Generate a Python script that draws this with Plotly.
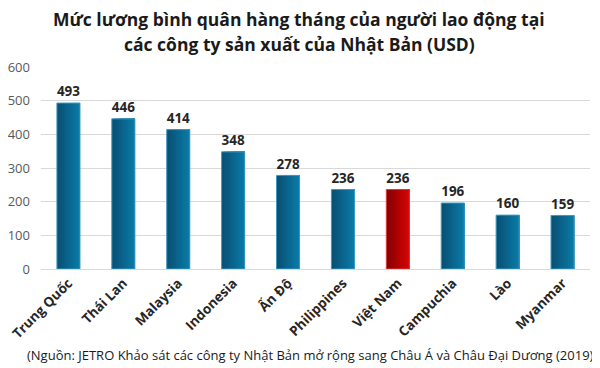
import plotly.graph_objects as go

countries = ["Trung Quốc", "Thái Lan", "Malaysia", "Indonesia", "Ấn Độ",
             "Philippines", "Việt Nam", "Campuchia", "Lào", "Myanmar"]
wages = [493, 446, 414, 348, 278, 236, 236, 196, 160, 159]
highlight = "Việt Nam"

# gradient end colours (left -> right) for normal and highlighted bars
blue_left, blue_right = (10, 80, 116), (10, 122, 166)
red_left, red_right = (135, 0, 0), (212, 4, 4)
blue_edge, red_edge = "#3d9ac2", "#e03a3a"

bar_w = 0.42
n_strips = 10


def mix(a, b, t):
    return "rgb(%d,%d,%d)" % tuple(round(a[i] + (b[i] - a[i]) * t) for i in range(3))


fig = go.Figure()
for k in range(n_strips):
    t = k / (n_strips - 1)
    start = -bar_w / 2 + k * bar_w / n_strips
    cols = [mix(red_left, red_right, t) if c == highlight else mix(blue_left, blue_right, t)
            for c in countries]
    fig.add_trace(go.Bar(
        x=countries, y=wages,
        width=bar_w / 2 - start, offset=start,
        marker=dict(color=cols, line=dict(width=0)),
        hoverinfo="skip",
    ))

fig.add_trace(go.Bar(
    x=countries, y=wages, width=bar_w, offset=-bar_w / 2,
    marker=dict(color="rgba(0,0,0,0)",
                line=dict(color=[red_edge if c == highlight else blue_edge for c in countries], width=1)),
    text=[str(v) for v in wages], textposition="outside",
    textfont=dict(family="Open Sans", size=14, color="#262626", weight="bold"),
    cliponaxis=False,
))

title_font = dict(family="Open Sans", size=17.5, color="#1a1a1a", weight="bold")

fig.update_layout(
    width=592, height=360,
    margin=dict(l=33, r=10, t=59, b=99),
    paper_bgcolor="white", plot_bgcolor="white",
    barmode="overlay",
    showlegend=False,
    yaxis=dict(
        range=[0, 600], dtick=100, showgrid=True, gridcolor="#d9d9d9", gridwidth=1,
        zeroline=False, showline=False, automargin=False,
        tickfont=dict(family="Open Sans", size=13, color="#595959"),
        ticklabelstandoff=10,
    ),
    xaxis=dict(
        tickangle=-45, showline=True, linecolor="#d9d9d9", linewidth=1, automargin=False,
        tickfont=dict(family="Open Sans", size=13.5, color="#262626", weight="bold"),
    ),
    annotations=[
        dict(text="Mức lương bình quân hàng tháng của người lao động tại",
             xref="paper", yref="paper", x=0.47, y=1.238, xanchor="center", yanchor="middle",
             showarrow=False, font=title_font),
        dict(text="các công ty sản xuất của Nhật Bản (USD)",
             xref="paper", yref="paper", x=0.47, y=1.112, xanchor="center", yanchor="middle",
             showarrow=False, font=title_font),
        dict(text="(Nguồn: JETRO Khảo sát các công ty Nhật Bản mở rộng sang Châu Á và Châu Đại Dương (2019)",
             xref="paper", yref="paper", x=0.49, y=-0.4257, xanchor="center", yanchor="middle",
             showarrow=False, font=dict(family="Open Sans", size=13, color="#1a1a1a")),
    ],
)

fig.write_html("out.html")
